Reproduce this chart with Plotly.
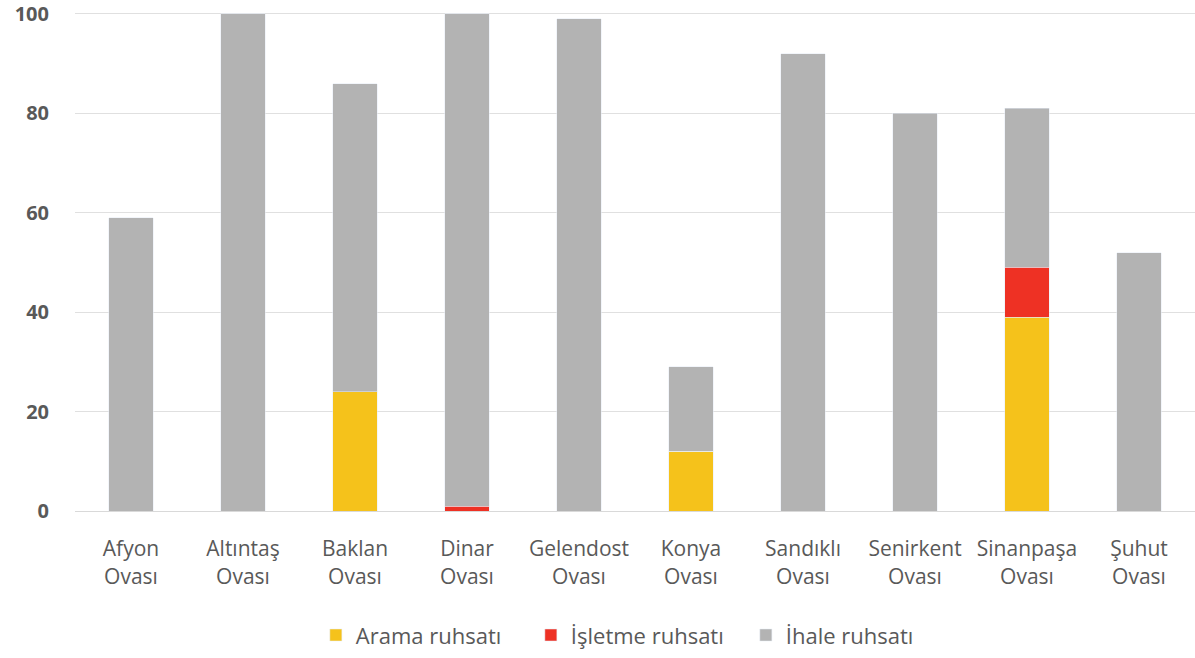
import plotly.graph_objects as go

categories = ["Afyon<br>Ovası", "Altıntaş<br>Ovası", "Baklan<br>Ovası", "Dinar<br>Ovası",
              "Gelendost<br>Ovası", "Konya<br>Ovası", "Sandıklı<br>Ovası", "Senirkent<br>Ovası",
              "Sinanpaşa<br>Ovası", "Şuhut<br>Ovası"]
arama = [0, 0, 24, 0, 0, 12, 0, 0, 39, 0]
isletme = [0, 0, 0, 1, 0, 0, 0, 0, 10, 0]
ihale = [59, 100, 62, 99, 99, 17, 92, 80, 32, 52]
y_ticks = [0, 20, 40, 60, 80, 100]

fig = go.Figure()
fig.add_trace(go.Bar(x=categories, y=arama, name="Arama ruhsatı", marker_color="#F5C21B"))
fig.add_trace(go.Bar(x=categories, y=isletme, name="İşletme ruhsatı", marker_color="#EE3124"))
fig.add_trace(go.Bar(x=categories, y=ihale, name="İhale ruhsatı", marker_color="#B3B3B3"))

fig.update_layout(
    barmode="stack",
    bargap=0.6,
    width=1195, height=658,
    margin=dict(l=75, r=0, t=4, b=147),
    plot_bgcolor="white", paper_bgcolor="white",
    font=dict(family="Open Sans", color="#595959"),
    legend=dict(orientation="h", x=0.503, xanchor="center", y=-0.245, yanchor="middle",
                font=dict(size=22, color="#595959"), traceorder="normal",
                entrywidth=170, entrywidthmode="pixels"),
    showlegend=True,
)
fig.update_xaxes(tickfont=dict(size=21, color="#595959"), showline=True,
                 linecolor="#D9D9D9", linewidth=1, ticks="outside", ticklen=19,
                 tickcolor="rgba(0,0,0,0)", automargin=False)
fig.update_yaxes(range=[0, 102], tickvals=y_ticks, showgrid=True, gridcolor="#E0E0E0",
                 gridwidth=1, zeroline=False, automargin=False, ticklabeloverflow="allow",
                 tickfont=dict(size=20, color="#595959", family="Open Sans", weight="bold"),
                 ticks="outside", ticklen=21, tickcolor="rgba(0,0,0,0)")
fig.write_html("out.html", post_script="document.body.style.margin='0';",
               config={"displayModeBar": False})
